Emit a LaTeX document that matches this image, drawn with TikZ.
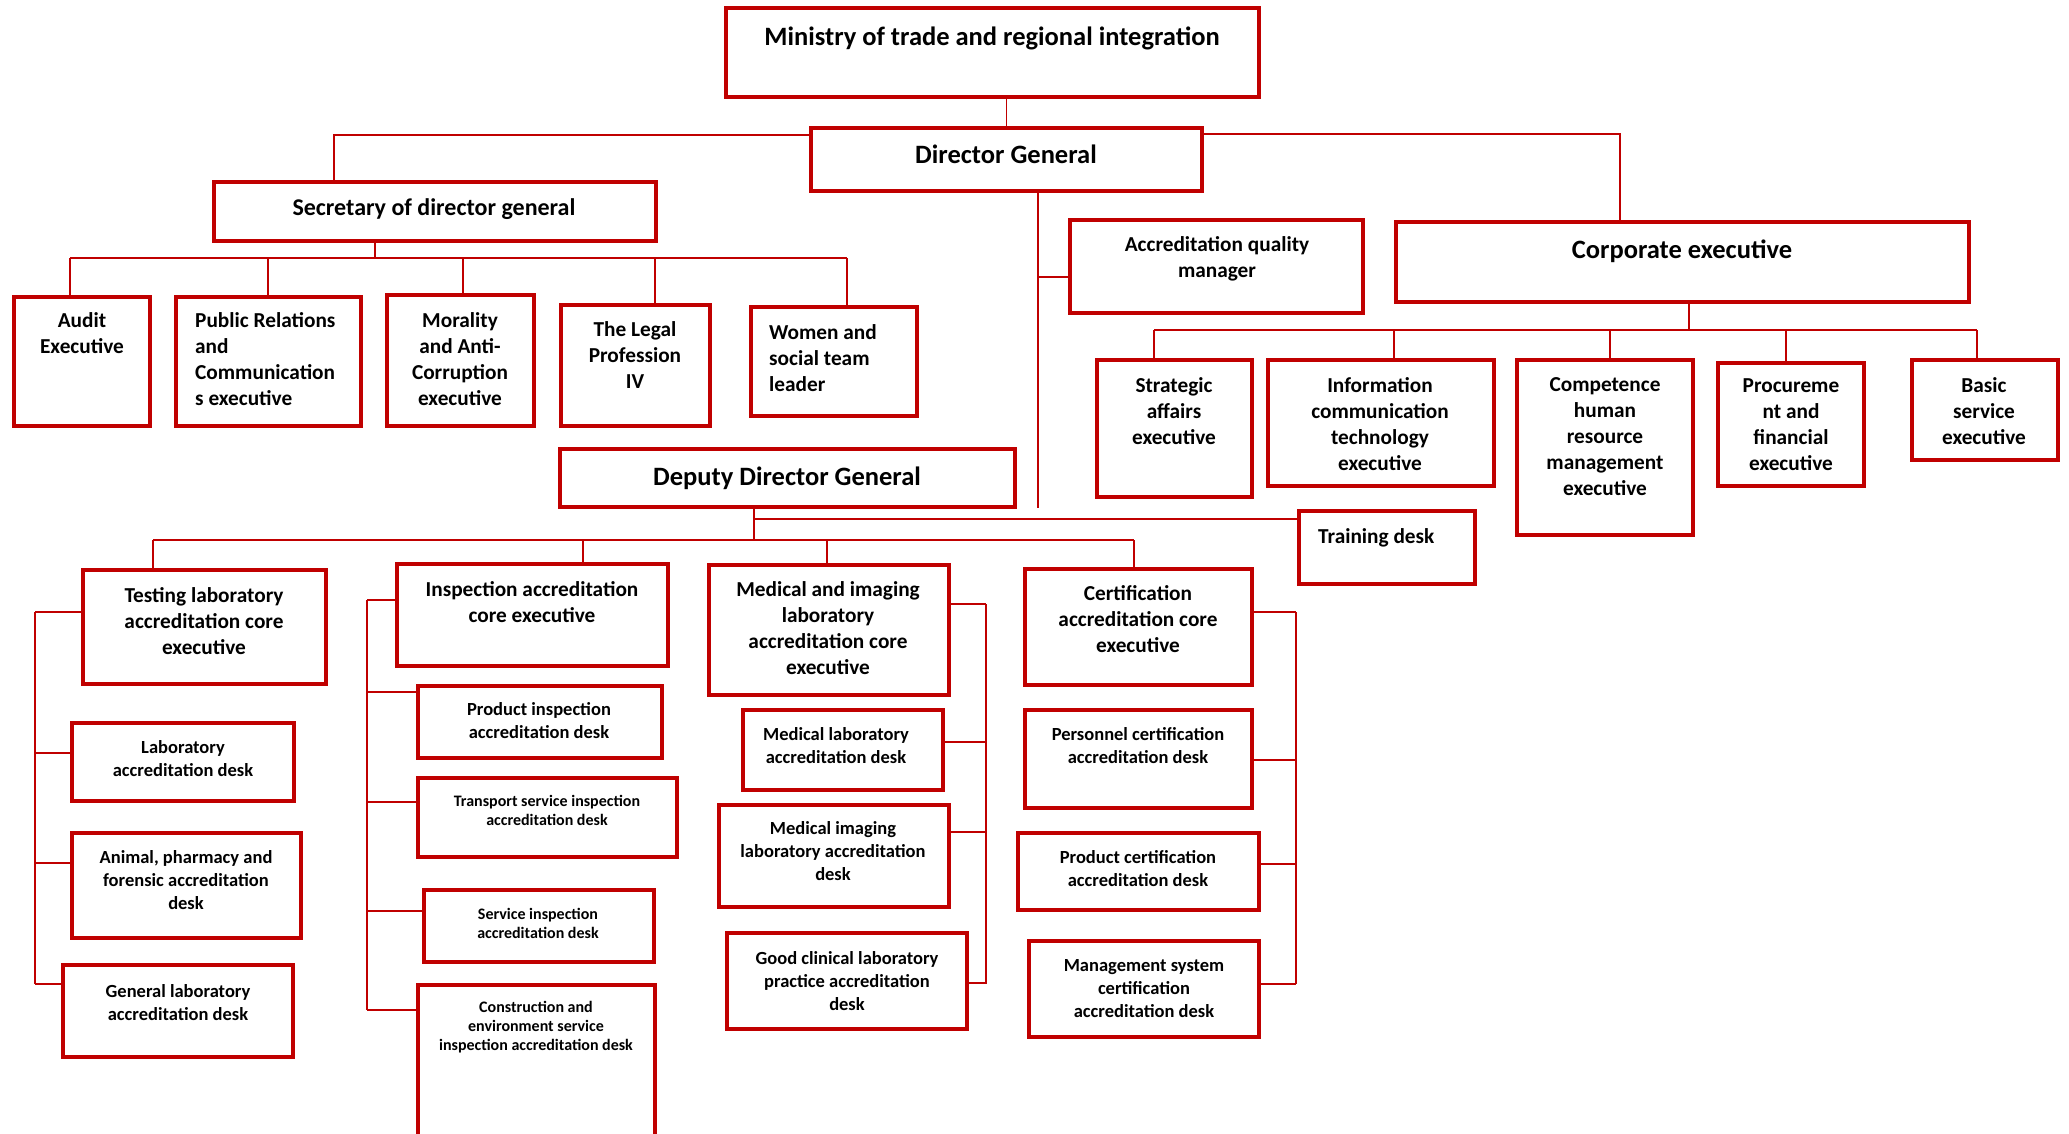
\documentclass[tikz,border=0pt]{standalone}
\usepackage{fontspec}
\setmainfont{Carlito}
\definecolor{orgred}{HTML}{C00000}
\tikzset{
 box/.style={draw=orgred, line width=4pt, rectangle, inner sep=0pt, outer sep=0pt},
 conn/.style={draw=orgred, line width=1.8pt},
 txt/.style={anchor=north, inner sep=0pt, align=center, text=black},
 fA/.style={font=\fontsize{26.5}{32}\selectfont\bfseries},
 fB/.style={font=\fontsize{24}{29}\selectfont\bfseries},
 fC/.style={font=\fontsize{21.3}{26}\selectfont\bfseries},
 fD/.style={font=\fontsize{18.5}{23}\selectfont\bfseries},
 fE/.style={font=\fontsize{16}{19}\selectfont\bfseries},
 lft/.style={anchor=north west, align=left},
}
% name, x1, y1, x2, y2, text x, text top y, text style, text
\newcommand\orgbox[9]{%
 \node[box, minimum width={#4-#2-4}, minimum height={#5-#3-4}] (#1) at ({(#2+#4)/2},{(#3+#5)/2}) {};
 \node[txt,#8] (#1-t) at (#6,#7) {#9};}
\begin{document}
\begin{tikzpicture}[x=1pt,y=-1pt]
\useasboundingbox (0,0) rectangle (2069,1133);
\fill[white] (0,0) rectangle (2069,1133);
\clip (0,0) rectangle (2069,1133);

% top level
\orgbox{min}{724}{6}{1261}{99}{992}{27}{fA}{Ministry of trade and regional integration}
\orgbox{dg}{809}{126}{1204}{193}{1006}{145}{fA}{Director General}
\orgbox{sec}{212}{180}{658}{243}{434}{198}{fB}{Secretary of director general}
\orgbox{audit}{12}{295}{152}{428}{82}{312}{fC}{Audit\\Executive}
\orgbox{pr}{174}{295}{363}{428}{195}{312}{fC,lft}{Public Relations\\and\\Communication\\s executive}
\orgbox{mor}{385}{293}{536}{428}{460}{312}{fC}{Morality\\and Anti-\\Corruption\\executive}
\orgbox{legal}{559}{303}{712}{428}{635}{321}{fC}{The Legal\\Profession\\IV}
\orgbox{women}{749}{305}{919}{418}{769}{324}{fC,lft}{Women and\\social team\\leader}
\orgbox{aqm}{1068}{218}{1365}{315}{1217}{236}{fC}{Accreditation quality\\manager}
\orgbox{corp}{1394}{220}{1971}{304}{1682}{240}{fA}{Corporate executive}
\orgbox{strat}{1095}{358}{1254}{499}{1174}{377}{fC}{Strategic\\affairs\\executive}
\orgbox{ict}{1266}{358}{1496}{488}{1380}{377}{fC}{Information\\communication\\technology\\executive}
\orgbox{comp}{1515}{358}{1695}{537}{1605}{377}{fC}{Competence\\human\\resource\\management\\executive}
\orgbox{proc}{1716}{361}{1866}{488}{1791}{378}{fC}{Procureme\\nt and\\financial\\executive}
\orgbox{basic}{1910}{358}{2060}{462}{1984}{377}{fC}{Basic\\service\\executive}
\orgbox{train}{1297}{509}{1477}{586}{1318}{528}{fC,lft}{Training desk}
\orgbox{ddg}{558}{447}{1017}{509}{787}{467}{fA}{Deputy Director General}

% bottom columns
\orgbox{test}{81}{568}{328}{686}{204}{587}{fC}{Testing laboratory\\accreditation core\\executive}
\orgbox{labd}{70}{721}{296}{803}{183}{740}{fD}{Laboratory\\accreditation desk}
\orgbox{anim}{70}{831}{303}{940}{186}{850}{fD}{Animal, pharmacy and\\forensic accreditation\\desk}
\orgbox{gen}{61}{963}{295}{1059}{178}{984}{fD}{General laboratory\\accreditation desk}
\orgbox{insp}{395}{562}{670}{668}{532}{581}{fC}{Inspection accreditation\\core executive}
\orgbox{pins}{416}{684}{664}{760}{539}{702}{fD}{Product inspection\\accreditation desk}
\orgbox{trans}{416}{776}{679}{859}{547}{795}{fE}{Transport service inspection\\accreditation desk}
\orgbox{serv}{422}{888}{656}{964}{538}{908}{fE}{Service inspection\\accreditation desk}
\orgbox{cons}{416}{983}{657}{1150}{536}{1001}{fE}{Construction and\\environment service\\inspection accreditation desk}
\orgbox{med}{707}{563}{951}{697}{828}{581}{fC}{Medical and imaging\\laboratory\\accreditation core\\executive}
\orgbox{medl}{741}{708}{945}{792}{836}{727}{fD}{Medical laboratory\\accreditation desk}
\orgbox{img}{717}{803}{951}{909}{833}{821}{fD}{Medical imaging\\laboratory accreditation\\desk}
\orgbox{gclp}{725}{931}{969}{1031}{847}{951}{fD}{Good clinical laboratory\\practice accreditation\\desk}
\orgbox{cert}{1023}{567}{1254}{687}{1138}{585}{fC}{Certification\\accreditation core\\executive}
\orgbox{pers}{1023}{708}{1254}{810}{1138}{727}{fD}{Personnel certification\\accreditation desk}
\orgbox{pcert}{1016}{831}{1261}{912}{1138}{850}{fD}{Product certification\\accreditation desk}
\orgbox{mgmt}{1027}{939}{1261}{1039}{1144}{959}{fD}{Management system\\certification\\accreditation desk}

% connectors: top
\draw[conn] (dg.north) -- (dg.north |- min.south);
\draw[conn] (dg.west |- 0,135) -| (334,0 |- sec.north);
\draw[conn] (dg.east |- 0,134) -| (1620,0 |- corp.north);
\coordinate (dgend) at (1038,508);
\draw[conn] (dg.south -| dgend) -- (dgend);
\draw[conn] (aqm.west |- 0,277) -- (dgend |- 0,277);

% secretary group
\coordinate (secbus) at (375,258);
\draw[conn] (sec.south -| secbus) -- (secbus);
\draw[conn] (70,258) -- (847,258);
\foreach \n/\x in {audit/70, pr/268, mor/463, legal/655, women/847}
  \draw[conn] (\n.north -| \x,0) -- (\x,258);

% corporate group
\draw[conn] (corp.south -| 1689,0) -- (1689,330);
\draw[conn] (1154,330) -- (1977,330);
\foreach \n/\x in {strat/1154, ict/1394, comp/1610, proc/1786, basic/1977}
  \draw[conn] (\n.north -| \x,0) -- (\x,330);

% deputy director general group
\draw[conn] (ddg.south -| 754,0) -- (754,540);
\draw[conn] (754,519) -- (train.west |- 0,519);
\draw[conn] (153,540) -- (1134,540);
\foreach \n/\x in {test/153, insp/583, med/827, cert/1134}
  \draw[conn] (\n.north -| \x,0) -- (\x,540);

% brackets
\draw[conn] (35,612) -- (35,984);
\foreach \n/\y in {test/612, labd/753, anim/863, gen/984}
  \draw[conn] (\n.west |- 0,\y) -- (35,\y);
\draw[conn] (367,600) -- (367,1010);
\foreach \n/\y in {insp/600, pins/692, trans/802, serv/911, cons/1010}
  \draw[conn] (\n.west |- 0,\y) -- (367,\y);
\draw[conn] (986,604) -- (986,984);
\foreach \n/\y in {med/604, medl/742, img/832, gclp/983}
  \draw[conn] (\n.east |- 0,\y) -- (986,\y);
\draw[conn] (1296,612) -- (1296,984);
\foreach \n/\y in {cert/612, pers/760, pcert/864, mgmt/984}
  \draw[conn] (\n.east |- 0,\y) -- (1296,\y);
\end{tikzpicture}
\end{document}
